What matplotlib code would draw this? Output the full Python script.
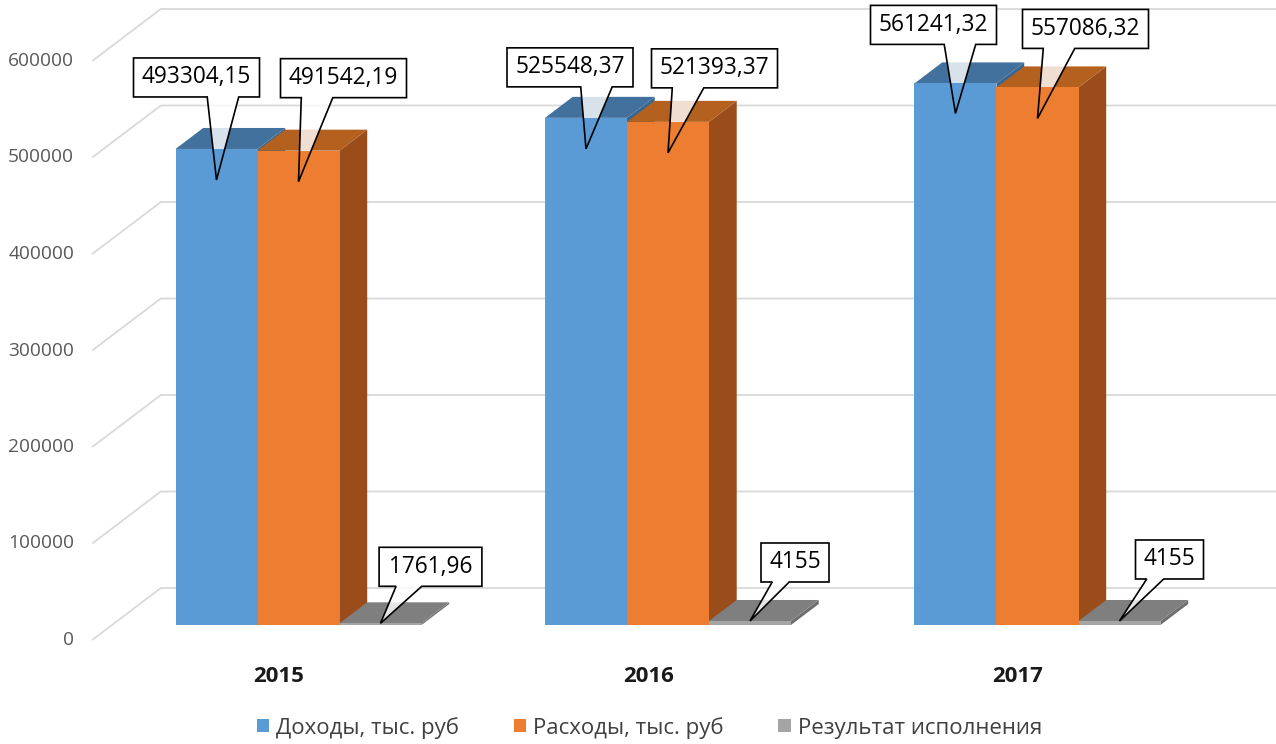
import matplotlib.pyplot as plt
from matplotlib.patches import Polygon, Rectangle, Patch

plt.rcParams['font.family'] = ['Open Sans', 'DejaVu Sans']

# данные
years = ['2015', '2016', '2017']
series = ['Доходы, тыс. руб', 'Расходы, тыс. руб', 'Результат исполнения']
income = [493304.15, 525548.37, 561241.32]
expense = [491542.19, 521393.37, 557086.32]
result = [1761.96, 4155, 4155]
yticks = [0, 100000, 200000, 300000, 400000, 500000, 600000]

# цвета: передняя грань, верх, бок
front_c = ['#5B9BD5', '#ED7D31', '#A5A5A5']
top_c = ['#41719C', '#B4601F', '#7F7F7F']
side_c = ['#3A6690', '#9A4D1B', '#6E6E6E']

# псевдо-3D геометрия (в пикселях)
PX_CAT = 369.5      # пикселей на категорию
PX_VAL = 0.000965   # пикселей на единицу значения
KX = 1.32           # сдвиг по x на пиксель глубины
D_FRONT, D_BAR, D_WALL = -15, 21, 37
BAR_W = 82 / PX_CAT


def P(x, v, d):
    return (x + d * KX / PX_CAT, v + d / PX_VAL)


def fmt(v):
    if float(v).is_integer():
        return str(int(v))
    return f'{v:.2f}'.replace('.', ',')


fig = plt.figure(figsize=(12.76, 7.44), dpi=100)
ax = fig.add_axes([0, 0, 1, 1])
ax.set_xlim(-298.5 / PX_CAT, (1276 - 298.5) / PX_CAT)
ax.set_ylim(-119 / PX_VAL, 625 / PX_VAL)
ax.axis('off')

# сетка на задней стенке
x_left = -186.5 / PX_CAT
x_right = ax.get_xlim()[1]
for v in yticks:
    p0 = P(x_left, v, D_FRONT)
    p1 = P(x_left, v, D_WALL)
    ax.plot([p0[0], p1[0], x_right], [p0[1], p1[1], p1[1]],
            color='#D9D9D9', lw=1.3, zorder=1, solid_capstyle='butt')
    ax.text(p0[0] - 18 / PX_CAT, p0[1], str(v), ha='right', va='center',
            fontsize=13.8, color='#595959')

# столбцы
data = [income, expense, result]
offsets = [-BAR_W, 0, BAR_W]
for i in range(len(years)):
    for j, vals in enumerate(data):
        h = vals[i]
        x0 = i + offsets[j] - BAR_W / 2
        x1 = x0 + BAR_W
        side = [P(x1, 0, 0), P(x1, h, 0), P(x1, h, D_BAR), P(x1, 0, D_BAR)]
        top = [P(x0, h, 0), P(x1, h, 0), P(x1, h, D_BAR), P(x0, h, D_BAR)]
        ax.add_patch(Polygon(side, closed=True, fc=side_c[j], ec='none', zorder=2))
        ax.add_patch(Polygon(top, closed=True, fc=top_c[j], ec='none', zorder=2))
        ax.add_patch(Rectangle((x0, 0), BAR_W, h, fc=front_c[j], ec='none', zorder=3))
    fx, fy = P(i, 0, D_FRONT)
    ax.text(fx, -51 / PX_VAL, years[i], ha='center', va='center',
            fontsize=16, fontweight='bold', color='#1a1a1a')

# выноски: (сдвиг центра рамки, подъём низа рамки над остриём, опускание острия) в пикселях
callouts = [
    [(-20, 83, 31), (-16, 62, 31), (-22, 69, 30)],
    [(45, 84, 31), (46.5, 65, 31), (48, 70, 31)],
    [(50, 37, 0), (45, 39, 0), (50, 42, 0)],
]
BOX_H = 39
for j, vals in enumerate(data):
    for i, h in enumerate(vals):
        dxc, rise, drop = callouts[j][i]
        label = fmt(h)
        bw = 21.6 + 11.6 * len(label)
        tx = i + offsets[j]
        tv = h - drop / PX_VAL
        cx = tx + dxc / PX_CAT
        bottom = tv + rise / PX_VAL
        top_v = bottom + BOX_H / PX_VAL
        L = cx - bw / 2 / PX_CAT
        R = cx + bw / 2 / PX_CAT
        sgn = -1 if dxc > 0 else 1
        bc = cx + sgn * 0.21 * bw / PX_CAT
        bl = bc - 0.125 * bw / PX_CAT
        br = bc + 0.125 * bw / PX_CAT
        ax.add_patch(Rectangle((L, bottom), R - L, top_v - bottom, fc='white',
                               ec='none', zorder=4))
        ax.add_patch(Polygon([(bl, bottom), (tx, tv), (br, bottom)], closed=True,
                             fc='white', alpha=0.8, ec='none', zorder=2.5))
        outline = [(L, bottom), (bl, bottom), (tx, tv), (br, bottom), (R, bottom),
                   (R, top_v), (L, top_v)]
        ax.add_patch(Polygon(outline, closed=True, fill=False, ec='black',
                             lw=1.2, joinstyle='miter', zorder=6))
        ax.text(cx, (bottom + top_v) / 2, label, ha='center', va='center',
                fontsize=16.3, color='black', zorder=7)

handles = [Patch(facecolor=c, edgecolor='none') for c in front_c]
leg = fig.legend(handles, series, loc='center', bbox_to_anchor=(0.509, 0.022),
                 ncol=3, frameon=False, fontsize=16, handlelength=0.55,
                 handleheight=0.55, handletextpad=0.32, columnspacing=2.45)
for t in leg.get_texts():
    t.set_color('#404040')

fig.savefig('out.png', dpi=100)
